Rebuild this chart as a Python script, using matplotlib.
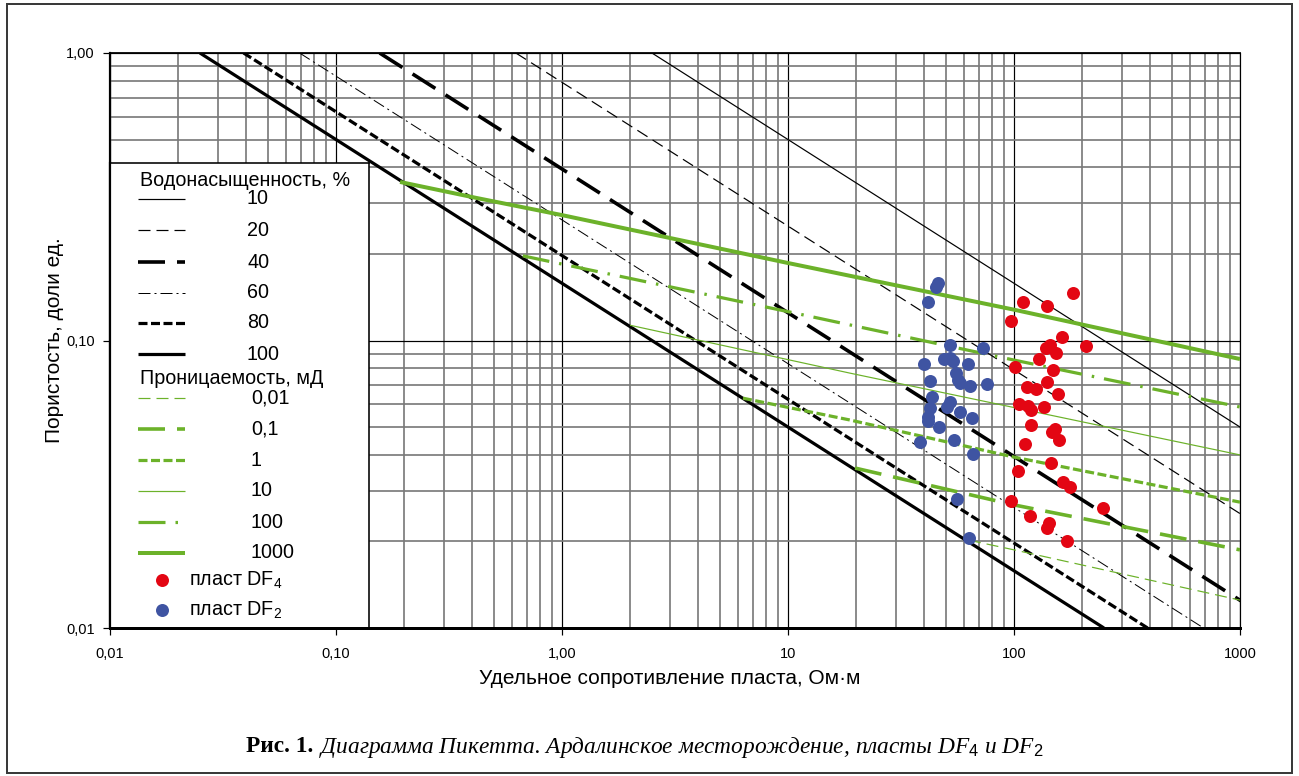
import matplotlib
matplotlib.use('Agg')
import matplotlib.pyplot as plt
from matplotlib.patches import Rectangle
from matplotlib.ticker import LogLocator

plt.rcParams['font.family'] = ['Liberation Sans', 'DejaVu Sans']
plt.rcParams['mathtext.fontset'] = 'custom'
plt.rcParams['mathtext.rm'] = 'Liberation Sans'
plt.rcParams['mathtext.it'] = 'Liberation Serif:italic'
plt.rcParams['lines.scale_dashes'] = False

W, H = 1299, 776
PX = 72 / 100  # 1 px в пунктах при dpi=100

# --- водонасыщенность (линии Арчи), точки пересечения с φ=1,00 и φ=0,01
sw_labels = ['10', '20', '40', '60', '80', '100']
sw_rt_top = [2.5, 0.625, 0.156, 0.069, 0.039, 0.025]
sw_rt_bottom = [25000, 6250, 1560, 690, 390, 250]

perm_labels = ['0,01', '0,1', '1', '10', '100', '1000']
perm_rt = [
    [63.2, 100, 1000],
    [19.8, 100, 1000],
    [6.32, 18.8, 100, 1000],
    [2.0, 18.8, 1000],
    [0.671, 10, 100, 1000],
    [0.192, 0.42, 1.0, 10, 100, 1000],
]
perm_phi = [
    [0.0202, 0.0187, 0.0125],
    [0.036, 0.0268, 0.0187],
    [0.063, 0.0529, 0.0393, 0.0274],
    [0.113, 0.077, 0.040],
    [0.197, 0.126, 0.0855, 0.0587],
    [0.356, 0.313, 0.273, 0.186, 0.128, 0.0862],
]

# --- пласт DF4
df4_rt = [182, 110, 140, 97, 163, 208, 144, 139, 154, 129, 101, 149, 140, 114, 125,
          157, 105, 115, 119, 136, 119, 152, 147, 158, 112, 146, 104, 165, 177, 97,
          248, 118, 143, 140, 172]
df4_phi = [0.146, 0.136, 0.132, 0.117, 0.103, 0.0957, 0.0965, 0.0942, 0.0905, 0.0862,
           0.0809, 0.0789, 0.0717, 0.0689, 0.0678, 0.0651, 0.0601, 0.0592, 0.0573, 0.0587,
           0.0508, 0.0492, 0.0481, 0.0451, 0.0436, 0.0375, 0.0352, 0.0322, 0.0309, 0.0277,
           0.0261, 0.0245, 0.0232, 0.0223, 0.0201]

# --- пласт DF2
df2_rt = [46.1, 45.2, 41.6, 52.1, 72.9, 40.0, 49.0, 52.1, 53.7, 62.6, 55.4, 56.5, 57.7,
          42.5, 63.9, 76.0, 43.4, 52.1, 50.6, 57.7, 42.5, 41.6, 41.6, 46.6, 65.2, 38.4,
          54.3, 65.9, 56.0, 63.2]
df2_phi = [0.1585, 0.1535, 0.136, 0.0965, 0.0942, 0.0828, 0.0862, 0.0869, 0.0849, 0.0828,
           0.0771, 0.0729, 0.0712, 0.0723, 0.0695, 0.0706, 0.0636, 0.0611, 0.0587, 0.0564,
           0.0582, 0.0542, 0.0525, 0.0500, 0.0537, 0.0444, 0.0451, 0.0403, 0.0281, 0.0206]

x_ticks = [0.01, 0.1, 1, 10, 100, 1000]
x_tick_labels = ['0,01', '0,10', '1,00', '10', '100', '1000']
y_ticks = [0.01, 0.1, 1.0]
y_tick_labels = ['0,01', '0,10', '1,00']

GREEN = '#6cb22a'
RED = '#e30613'
BLUE = '#3f54a2'


def dash(*px):
    return [p * PX for p in px]


thin_dash = dash(12, 6)
long_dash = dash(27, 12)
short_dash = dash(9, 3.5)
sw_styles = [
    dict(lw=1.2 * PX, ls='-'),
    dict(lw=1.2 * PX, dashes=thin_dash),
    dict(lw=3.6 * PX, dashes=long_dash),
    dict(lw=1.0 * PX, dashes=dash(12, 4, 2, 4)),
    dict(lw=3.2 * PX, dashes=short_dash),
    dict(lw=3.2 * PX, ls='-'),
]
perm_styles = [
    dict(lw=1.2 * PX, dashes=thin_dash),
    dict(lw=3.6 * PX, dashes=long_dash),
    dict(lw=3.2 * PX, dashes=short_dash),
    dict(lw=1.2 * PX, ls='-'),
    dict(lw=3.2 * PX, dashes=dash(27, 10, 2.5, 10)),
    dict(lw=4.0 * PX, ls='-'),
]

fig = plt.figure(figsize=(W / 100, H / 100), dpi=100)
ax = fig.add_axes([110 / W, 1 - 628 / H, 1130 / W, 575 / H])
ax.set_xscale('log')
ax.set_yscale('log')
ax.set_xlim(0.01, 1000)
ax.set_ylim(0.01, 1.0)

ax.xaxis.set_minor_locator(LogLocator(base=10, subs=range(2, 10), numticks=20))
ax.yaxis.set_minor_locator(LogLocator(base=10, subs=range(2, 10), numticks=20))
ax.set_axisbelow(True)
ax.grid(which='minor', color='#7a7a7a', lw=1.7 * PX)
ax.grid(which='major', color='black', lw=1.2 * PX)
ax.tick_params(which='minor', length=0)
ax.tick_params(which='major', length=7 * PX, width=1.2 * PX, direction='out', pad=6)
narrow = ['Liberation Sans Narrow', 'Liberation Sans', 'DejaVu Sans']
ax.set_xticks(x_ticks, x_tick_labels, fontsize=10.5, family=narrow)
ax.set_yticks(y_ticks, y_tick_labels, fontsize=10.5, family=narrow)
ax.tick_params(axis='x', pad=9)

for side, lw in [('left', 2.2), ('bottom', 3.0), ('top', 1.8), ('right', 1.2)]:
    ax.spines[side].set_linewidth(lw * PX)
    ax.spines[side].set_color('black')

for i in range(len(sw_labels)):
    ax.plot([sw_rt_top[i], sw_rt_bottom[i]], [1.0, 0.01], color='black',
            solid_capstyle='butt', dash_capstyle='butt', zorder=3, **sw_styles[i])

for i in range(len(perm_labels)):
    ax.plot(perm_rt[i], perm_phi[i], color=GREEN, solid_capstyle='butt',
            dash_capstyle='butt', zorder=3, **perm_styles[i])

msize = (13 * PX) ** 2
ax.scatter(df4_rt, df4_phi, s=msize, color=RED, lw=0, zorder=4)
ax.scatter(df2_rt, df2_phi, s=msize, color=BLUE, lw=0, zorder=4)

# легенда (рамка в левом нижнем углу поля графика)
lg = ax.inset_axes([0, 0, 259 / 1130, 465 / 575])
lg.set_zorder(6)
lg.set_xlim(0, 259)
lg.set_ylim(465, 0)
lg.set_xticks([])
lg.set_yticks([])
lg.set_facecolor('white')
for side in lg.spines:
    lg.spines[side].set_color('black')
    lg.spines[side].set_linewidth(1.6 * PX)
lg.spines['bottom'].set_linewidth(3.0 * PX)
lg.spines['left'].set_linewidth(2.2 * PX)

fs = 14.2
lg.text(30, 17, 'Водонасыщенность, %', fontsize=fs, va='center')
sw_rows = [36, 67, 99, 130, 160, 191]
for i, y in enumerate(sw_rows):
    lg.plot([28, 75], [y, y], color='black', solid_capstyle='butt',
            dash_capstyle='butt', **sw_styles[i])
    lg.text(137, y, sw_labels[i], fontsize=fs, va='center')
lg.text(30, 215, 'Проницаемость, мД', fontsize=fs, va='center')
perm_rows = [235, 266, 297, 328, 359, 390]
for i, y in enumerate(perm_rows):
    lg.plot([28, 75], [y, y], color=GREEN, solid_capstyle='butt',
            dash_capstyle='butt', **perm_styles[i])
    lg.text(141, y, perm_labels[i], fontsize=fs, va='center')
lg.scatter([52], [417], s=msize, color=RED, lw=0)
lg.text(79, 417, 'пласт DF$_4$', fontsize=fs, va='center')
lg.scatter([52], [447], s=msize, color=BLUE, lw=0)
lg.text(79, 447, 'пласт DF$_2$', fontsize=fs, va='center')

fig.text(55 / W, 1 - 340 / H, 'Пористость, доли ед.', fontsize=15, rotation=90,
         ha='center', va='center')
fig.text(670 / W, 1 - 678 / H, 'Удельное сопротивление пласта, Ом·м', fontsize=15,
         ha='center', va='center')

# подпись рисунка: жирное «Рис. 1.» + курсив
cap_y = 1 - 747 / H
serif = ['Liberation Serif', 'DejaVu Serif']
t1 = fig.text(0, cap_y, 'Рис. 1. ', fontsize=16.8, family=serif, weight='bold', va='center')
t2 = fig.text(0, cap_y, 'Диаграмма Пикетта. Ардалинское месторождение, пласты '
              'DF$_{\\mathit{4}}$ и DF$_{\\mathit{2}}$',
              fontsize=16.8, family=serif, style='italic', va='center')
r = fig.canvas.get_renderer()
w1 = t1.get_window_extent(r).width
w2 = t2.get_window_extent(r).width
x0 = 645 - (w1 + w2) / 2
t1.set_x(x0 / W)
t2.set_x((x0 + w1) / W)

fig.add_artist(Rectangle((7 / W, 3 / H), 1285 / W, 769 / H, transform=fig.transFigure,
                         fill=False, ec='#3a3a3a', lw=2.0 * PX))

fig.savefig('out.png', dpi=100)
